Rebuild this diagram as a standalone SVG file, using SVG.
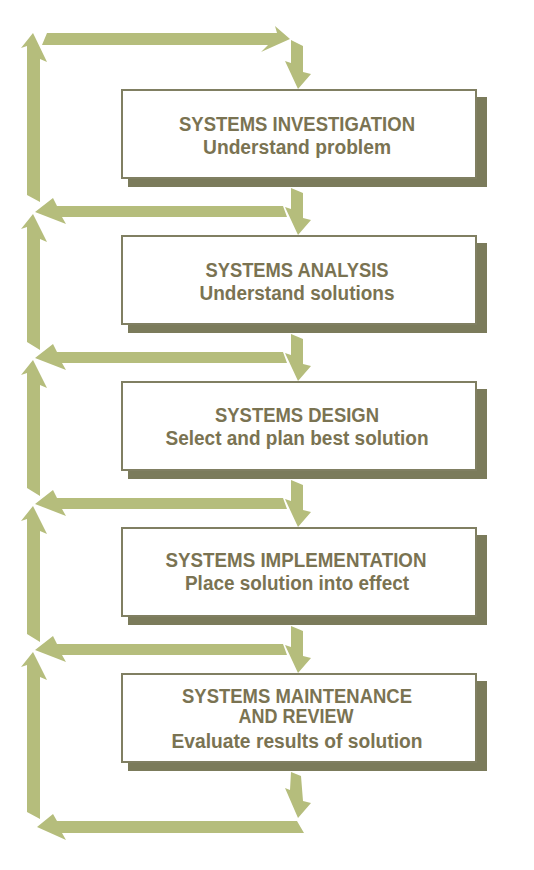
<svg xmlns="http://www.w3.org/2000/svg" width="534" height="870" viewBox="0 0 534 870">
<style>
.arr{fill:#b5bd7c}
.shadow{fill:#7b7b5b}
.box{fill:#ffffff;stroke:#807f62;stroke-width:2}
.t{font-family:"Liberation Sans",Arial,sans-serif;font-weight:bold;font-size:19.5px;fill:#7a7352;text-anchor:middle}
</style>
<rect width="534" height="870" fill="#ffffff"/>
<g id="connectors">
<!-- top loop -->
<polygon class="arr" points="47,33 277,33 275,26 290,39 261,52 268,45 42,45"/>
<polygon class="arr" points="291,40 303,46 303,72 311,74 298,89 285,61 291,63"/>
<polygon class="arr" points="33,33 47,62 40,59 40,202 27,195 27,46 21,48"/>
<!-- level 1 -->
<polygon class="arr" points="35,212 53,198 57,206 283,206 287,217 62,217 66,224"/>
<polygon class="arr" points="291,188 303,193 303,218 311,220 298,235 285,207 291,209"/>
<polygon class="arr" points="33,214 47,242 40,239 40,350 27,342 27,227 21,229"/>
<!-- level 2 -->
<polygon class="arr" points="35,358 53,344 57,352 283,352 287,363 62,363 66,370"/>
<polygon class="arr" points="291,334 303,339 303,364 311,366 298,381 285,353 291,355"/>
<polygon class="arr" points="33,360 47,388 40,385 40,496 27,488 27,373 21,375"/>
<!-- level 3 -->
<polygon class="arr" points="35,504 53,490 57,498 283,498 287,509 62,509 66,516"/>
<polygon class="arr" points="291,480 303,485 303,510 311,512 298,527 285,499 291,501"/>
<polygon class="arr" points="33,506 47,534 40,531 40,642 27,634 27,519 21,521"/>
<!-- level 4 -->
<polygon class="arr" points="35,650 53,636 57,644 283,644 287,655 62,655 66,662"/>
<polygon class="arr" points="291,626 303,631 303,656 311,658 298,673 285,645 291,647"/>
<polygon class="arr" points="33,652 47,680 40,677 40,819 27,812 27,665 21,667"/>
<!-- bottom -->
<polygon class="arr" points="291,772 301,776 303,801 311,803 298,818 285,788 290,790"/>
<polygon class="arr" points="37,827 53,814 57,821 297,821 304,833 62,833 66,840"/>
</g>
<g id="node1">
<rect class="shadow" x="128" y="97" width="359" height="90"/>
<rect class="box" x="122" y="90" width="354" height="88"/>
<text class="t" x="297" y="131" textLength="236" lengthAdjust="spacingAndGlyphs">SYSTEMS INVESTIGATION</text>
<text class="t" x="297" y="154" textLength="188" lengthAdjust="spacingAndGlyphs">Understand problem</text>
</g>
<g id="node2">
<rect class="shadow" x="128" y="243" width="359" height="90"/>
<rect class="box" x="122" y="236" width="354" height="88"/>
<text class="t" x="297" y="277" textLength="183" lengthAdjust="spacingAndGlyphs">SYSTEMS ANALYSIS</text>
<text class="t" x="297" y="300" textLength="195" lengthAdjust="spacingAndGlyphs">Understand solutions</text>
</g>
<g id="node3">
<rect class="shadow" x="128" y="389" width="359" height="90"/>
<rect class="box" x="122" y="382" width="354" height="88"/>
<text class="t" x="297" y="422" textLength="164" lengthAdjust="spacingAndGlyphs">SYSTEMS DESIGN</text>
<text class="t" x="297" y="445" textLength="263" lengthAdjust="spacingAndGlyphs">Select and plan best solution</text>
</g>
<g id="node4">
<rect class="shadow" x="128" y="535" width="359" height="90"/>
<rect class="box" x="122" y="528" width="354" height="88"/>
<text class="t" x="296" y="567" textLength="261" lengthAdjust="spacingAndGlyphs">SYSTEMS IMPLEMENTATION</text>
<text class="t" x="297" y="590" textLength="224" lengthAdjust="spacingAndGlyphs">Place solution into effect</text>
</g>
<g id="node5">
<rect class="shadow" x="128" y="681" width="359" height="90"/>
<rect class="box" x="122" y="674" width="354" height="88"/>
<text class="t" x="297" y="703" textLength="230" lengthAdjust="spacingAndGlyphs">SYSTEMS MAINTENANCE</text>
<text class="t" x="296" y="723" textLength="115" lengthAdjust="spacingAndGlyphs">AND REVIEW</text>
<text class="t" x="297" y="748" textLength="251" lengthAdjust="spacingAndGlyphs">Evaluate results of solution</text>
</g>
</svg>
